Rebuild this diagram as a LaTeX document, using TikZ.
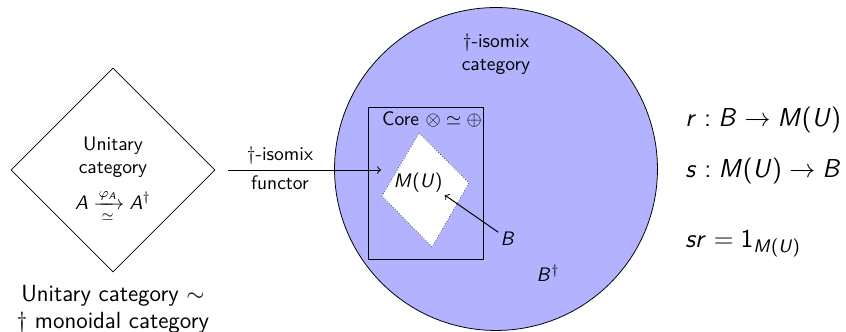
\RequirePackage{fix-cm}
\documentclass[tikz,border=0pt]{standalone}
\usepackage{amsmath,amssymb}
\usetikzlibrary{shapes.geometric}
\DeclareSymbolFont{operators}{OT1}{cmss}{m}{n}
\DeclareSymbolFont{sfit}{OT1}{cmss}{m}{sl}
\DeclareMathSymbol{A}{\mathalpha}{sfit}{`A}
\DeclareMathSymbol{B}{\mathalpha}{sfit}{`B}
\DeclareMathSymbol{M}{\mathalpha}{sfit}{`M}
\DeclareMathSymbol{U}{\mathalpha}{sfit}{`U}
\DeclareMathSymbol{r}{\mathalpha}{sfit}{`r}
\DeclareMathSymbol{s}{\mathalpha}{sfit}{`s}
\DeclareMathSymbol{(}{\mathopen}{operators}{"28}
\DeclareMathSymbol{)}{\mathclose}{operators}{"29}
\DeclareMathSymbol{1}{\mathalpha}{operators}{`1}
\definecolor{catblue}{RGB}{178,178,255}
\begin{document}
\begin{tikzpicture}[x=0.5128pt,y=-0.5128pt,
  every node/.style={font=\sffamily},
  txt/.style={inner sep=1pt, align=center},
  big/.style={font=\sffamily\large},
  bigger/.style={font=\sffamily\fontsize{13.3}{16}\selectfont},
  conn/.style={->, line width=0.5pt}]
\useasboundingbox (0,0) rectangle (846,332);
% left diamond
\node[diamond, draw, minimum width=104.6pt, minimum height=104.6pt, inner sep=0pt] (ldia) at (113,170) {};
\node[txt] (unit) at (113,157) {Unitary\\category};
\node[txt] (phi) at (113,206) {$A \xrightarrow[\simeq]{\varphi_A} A^{\dagger}$};
\node[txt, big] (bottom) at (113,309) {Unitary category $\sim$\\$\dagger$ monoidal category};
% big circle
\node[circle, draw, fill=catblue, minimum size=165.6pt, inner sep=0pt] (cat) at (496,169) {};
\node[txt] (catlbl) at (496,54) {\textdagger-isomix\\category};
% core box
\node[rectangle, draw, minimum width=59pt, minimum height=77.9pt, inner sep=0pt] (core) at (425.5,183) {};
\node[txt] (corelbl) at (432,119) {Core $\otimes\simeq\oplus$};
% inner parallelogram
\filldraw[fill=white, draw=black!70, densely dotted] (419,133) -- (469,183) -- (432,247) -- (382,196) -- cycle;
\node[txt] (mu) at (418,183) {$M(U)$};
\node[txt] (b) at (508,239) {$B$};
\node[txt] (bd) at (548,273) {$B^{\dagger}$};
\draw[conn] (b) -- (mu.south east);
% functor arrow
\coordinate (fend) at (381,170);
\draw[conn, shorten <=6.7pt] (ldia.east) -- (fend);
\node[txt] (fl1) at (280,156) {\textdagger-isomix};
\node[txt] (fl2) at (280,183) {functor};
% right text
\node[bigger, anchor=base west, inner sep=0pt] (r) at (685,127) {$r : B \rightarrow M(U)$};
\node[bigger, anchor=base west, inner sep=0pt] (s) at (685,178) {$s : M(U) \rightarrow B$};
\node[bigger, anchor=base west, inner sep=0pt] (sr) at (685,248) {$sr = 1_{M(U)}$};
\end{tikzpicture}
\end{document}
